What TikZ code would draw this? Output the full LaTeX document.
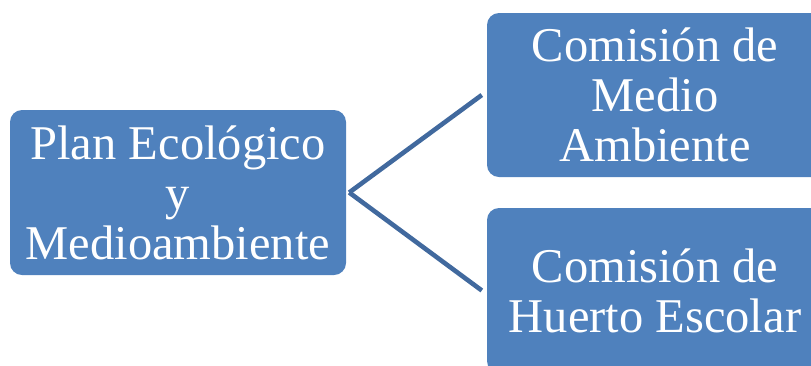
\documentclass[tikz,border=0pt]{standalone}
\usepackage{fontspec}
\setmainfont{Liberation Serif}
\definecolor{boxblue}{HTML}{4F81BD}
\definecolor{linkblue}{HTML}{41699E}
\begin{document}
\begin{tikzpicture}[x=1pt,y=-1pt,
  box/.style={fill=boxblue, draw=none, rounded corners=12pt, text=white, align=center,
    font=\fontsize{48.5}{50}\selectfont, inner sep=0pt},
  link/.style={draw=linkblue, line width=4.6pt}]
\useasboundingbox (0,0) rectangle (811,365);
\begin{scope}
\clip (0,0) rectangle (811,365);
\node[box, minimum width=336pt, minimum height=165pt] (L) at (178,192.5) {Plan Ecológico\\y\\Medioambiente};
\node[box, minimum width=336pt, minimum height=164pt] (T) at (655,95) {Comisión de\\Medio\\Ambiente};
\node[box, minimum width=336pt, minimum height=165pt] (B) at (655,290.5) {Comisión de\\Huerto Escolar};
\end{scope}
\draw[link] ([xshift=3pt]L.east) -- ([xshift=-5pt]T.west);
\draw[link] ([xshift=3pt]L.east) -- ([xshift=-5pt]B.west);
\end{tikzpicture}
\end{document}
